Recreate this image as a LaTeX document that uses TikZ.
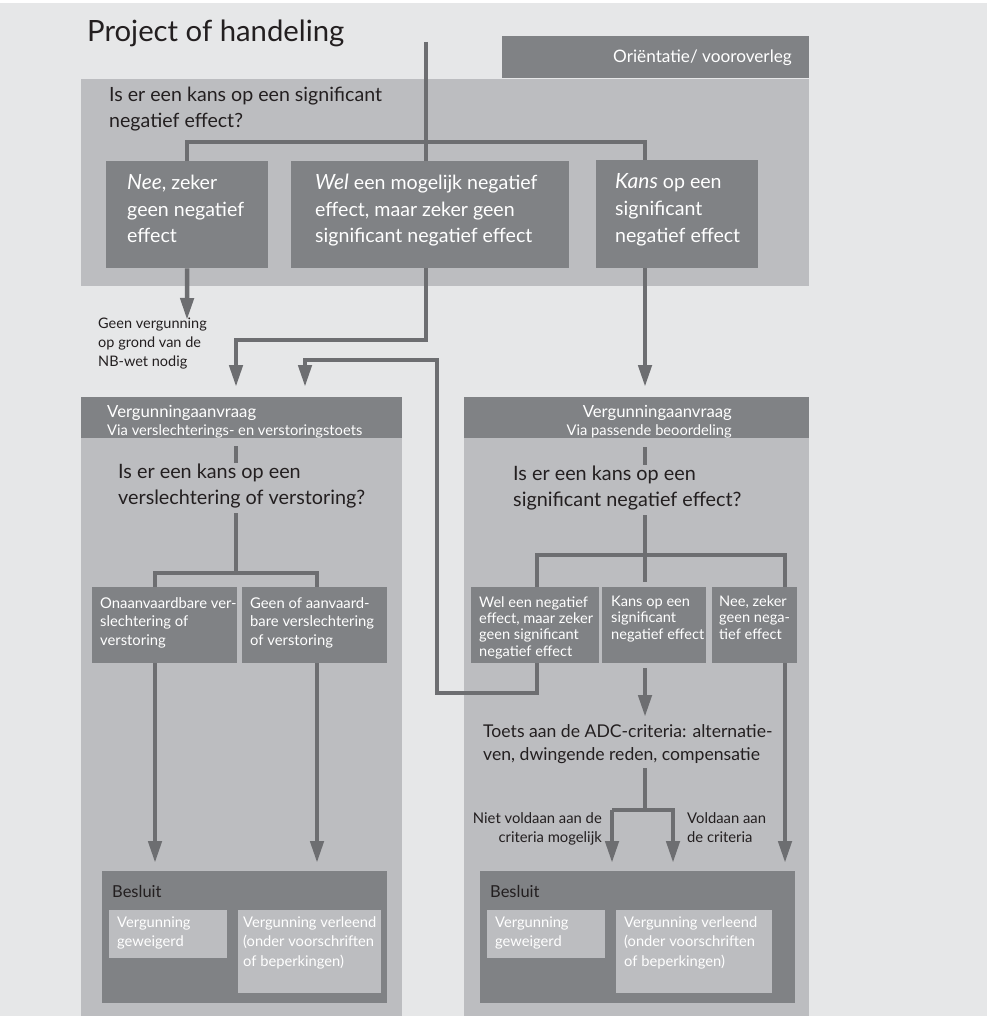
\documentclass[tikz,border=0pt]{standalone}
\usepackage{fontspec}
\setmainfont{Lato}
\usetikzlibrary{arrows.meta,calc}

\definecolor{bgGray}{HTML}{E6E7E8}
\definecolor{panelGray}{HTML}{BCBDC0}
\definecolor{boxGray}{HTML}{808285}
\definecolor{lineGray}{HTML}{6D6E71}
\definecolor{inkDark}{HTML}{231F20}

\newcommand{\fsz}[2]{\fontsize{#1}{#2}\selectfont}

\begin{document}
\begin{tikzpicture}[x=1pt,y=-1pt,
  panel/.style={fill=panelGray, inner sep=0, anchor=north west},
  darkbox/.style={fill=boxGray, inner sep=0, anchor=north west},
  boxtext/.style={text=white, anchor=base west, inner sep=0, align=left},
  asktext/.style={text=inkDark, anchor=base west, inner sep=0, align=left},
  flow/.style={draw=lineGray, line width=4.5pt},
  flowarr/.style={flow, -{Triangle[width=13pt,length=22pt]}},
]
  % Background
  \path[use as bounding box] (0,0) rectangle (990,1016);
  \fill[bgGray] (0,3) rectangle (987,1016);

  % Orientation stage (text nodes sit on the baseline of their last line)
  \node[asktext, font=\fsz{29.3}{34}] (title) at (87,42) {Project of handeling};
  \node[darkbox, minimum width=307pt, minimum height=42pt] (orient) at (502,36) {};
  \node[boxtext, anchor=base east, font=\fsz{17.2}{20}] (orienttxt) at (792,63) {Oriëntatie/ vooroverleg};
  \node[panel, minimum width=728pt, minimum height=207pt] (toppanel) at (81,79) {};
  \node[asktext, font=\fsz{19.6}{26}] (topask) at (109,128) {Is er een kans op een significant\\negatief effect?};

  \node[darkbox, minimum width=162pt, minimum height=107pt] (nee) at (106,161) {};
  \node[darkbox, minimum width=278pt, minimum height=107pt] (wel) at (291,161) {};
  \node[darkbox, minimum width=162pt, minimum height=108pt] (kans) at (596,160) {};
  \node[boxtext, font=\fsz{19.6}{26.5}] (neetxt) at (127,243)
    {{\fsz{21}{26.5}\itshape Nee}, zeker\\geen negatief\\effect};
  \node[boxtext, font=\fsz{19.6}{26.5}] (weltxt) at (315,243)
    {{\fsz{21}{26.5}\itshape Wel} een mogelijk negatief\\effect, maar zeker geen\\significant negatief effect};
  \node[boxtext, font=\fsz{19.6}{26.5}] (kanstxt) at (615,242)
    {{\fsz{21}{26.5}\itshape Kans} op een\\significant\\negatief effect};

  \node[asktext, font=\fsz{14.5}{19}] (geenverg) at (98,366) {Geen vergunning\\op grond van de\\NB-wet nodig};

  % Left column: verslechterings- en verstoringstoets
  \node[darkbox, minimum width=321pt, minimum height=41pt] (lefthead) at (81,397) {};
  \node[panel, minimum width=321pt, minimum height=578pt] (leftpanel) at (81,438) {};
  \node[boxtext, font=\fsz{16.7}{18}] (leftheadtxt) at (107,435)
    {Vergunningaanvraag\\\fsz{14.7}{18}Via verslechterings- en verstoringstoets};
  \node[asktext, font=\fsz{19.8}{26}] (leftask) at (118,504) {Is er een kans op een\\verslechtering of verstoring?};

  \node[darkbox, minimum width=145pt, minimum height=76pt] (onaan) at (92,587) {};
  \node[darkbox, minimum width=145pt, minimum height=76pt] (geenof) at (242,587) {};
  \node[boxtext, font=\fsz{14.8}{18.5}] (onaantxt) at (100,645) {Onaanvaardbare ver-\\slechtering of\\verstoring};
  \node[boxtext, font=\fsz{14.8}{18.5}] (geenoftxt) at (250,645) {Geen of aanvaard-\\bare verslechtering\\of verstoring};

  \node[darkbox, minimum width=285pt, minimum height=132pt] (leftbesluit) at (102,871) {};
  \node[asktext, font=\fsz{16.5}{20}] (leftbesluittxt) at (112,897) {Besluit};
  \node[panel, minimum width=118pt, minimum height=48pt] (leftnee) at (109,910) {};
  \node[panel, minimum width=143pt, minimum height=83pt] (leftja) at (238,910) {};
  \node[boxtext, font=\fsz{14.7}{19.5}] (leftneetxt) at (117,946.5) {Vergunning\\geweigerd};
  \node[boxtext, font=\fsz{14.7}{19.5}] (leftjatxt) at (243,966) {Vergunning verleend\\(onder voorschriften\\of beperkingen)};

  % Right column: passende beoordeling
  \node[darkbox, minimum width=345pt, minimum height=41pt] (righthead) at (464,397) {};
  \node[panel, minimum width=345pt, minimum height=578pt] (rightpanel) at (464,438) {};
  \node[boxtext, anchor=base east, align=right, font=\fsz{16.7}{18}] (rightheadtxt) at (732,435)
    {Vergunningaanvraag\\\fsz{14.7}{18}Via passende beoordeling};
  \node[asktext, font=\fsz{19.8}{26}] (rightask) at (513,506) {Is er een kans op een\\significant negatief effect?};

  \node[darkbox, minimum width=128pt, minimum height=76pt] (welneg) at (471,587) {};
  \node[darkbox, minimum width=104pt, minimum height=76pt] (kansop) at (602,587) {};
  \node[darkbox, minimum width=85pt, minimum height=76pt] (neezeker) at (712,587) {};
  \node[boxtext, font=\fsz{14.6}{16.2}] (welnegtxt) at (479,656) {Wel een negatief\\effect, maar zeker\\geen significant\\negatief effect};
  \node[boxtext, font=\fsz{14.6}{16.2}] (kansoptxt) at (611,639) {Kans op een\\significant\\negatief effect};
  \node[boxtext, font=\fsz{14.6}{16.2}] (neezekertxt) at (719,639) {Nee, zeker\\geen nega-\\tief effect};

  \node[asktext, font=\fsz{17.6}{23}] (adc) at (483,760) {Toets aan de ADC-criteria: alternatie-\\ven, dwingende reden, compensatie};
  \node[asktext, anchor=base east, align=right, font=\fsz{14.8}{19}] (nietvold) at (602,842) {Niet voldaan aan de\\criteria mogelijk};
  \node[asktext, font=\fsz{14.8}{19}] (vold) at (687,842) {Voldaan aan\\de criteria};

  \node[darkbox, minimum width=315pt, minimum height=132pt] (rightbesluit) at (480,871) {};
  \node[asktext, font=\fsz{16.5}{20}] (rightbesluittxt) at (490,897) {Besluit};
  \node[panel, minimum width=118pt, minimum height=48pt] (rightnee) at (487,910) {};
  \node[panel, minimum width=156pt, minimum height=83pt] (rightja) at (616,910) {};
  \node[boxtext, font=\fsz{14.7}{19.5}] (rightneetxt) at (495,946.5) {Vergunning\\geweigerd};
  \node[boxtext, font=\fsz{14.7}{19.5}] (rightjatxt) at (624,966) {Vergunning verleend\\(onder voorschriften\\of beperkingen)};

  % Junction points
  \coordinate (start) at (426,42);
  \coordinate (topfork) at (426,142);
  \coordinate (kansin) at (645,160);
  \coordinate (neeend) at (187,320);
  \coordinate (welbend) at (426,340);
  \coordinate (leftin) at (236,387);
  \coordinate (loopin) at (305,387);
  \coordinate (loopturn) at (437,360);
  \coordinate (loopcorner) at (437,693);
  \coordinate (rightin) at (645,387);
  \coordinate (lstubtop) at (236,446);
  \coordinate (lstubbot) at (236,463);
  \coordinate (laskbot) at (236,513);
  \coordinate (lfork) at (236,573);
  \coordinate (onaanin) at (155,587);
  \coordinate (geenofin) at (317,587);
  \coordinate (rstubtop) at (645,447);
  \coordinate (rstubbot) at (645,465);
  \coordinate (raskbot) at (645,515);
  \coordinate (rfork) at (645,555);
  \coordinate (kansopin) at (645,582);
  \coordinate (welnegin) at (537,587);
  \coordinate (neezekerin) at (785,587);
  \coordinate (kansopout) at (645,668);
  \coordinate (adcin) at (645,717);
  \coordinate (adcout) at (645,768);
  \coordinate (adcfork) at (645,810);
  \coordinate (nietin) at (612,863);
  \coordinate (voldin) at (673,863);
  \coordinate (lbesluitnee) at (155,863);
  \coordinate (lbesluitja) at (317,863);
  \coordinate (rbesluitja) at (785,863);

  % Connectors, top
  \draw[flow] (start) -- (start |- wel.north);
  \draw[flow] (nee.north) |- (kansin |- topfork) -- (kansin);
  \draw[flowarr] (nee.south) -- (neeend);
  \draw[flowarr] (start |- wel.south) -- (welbend) -| (leftin);
  \draw[flowarr] (kansin |- kans.south) -- (rightin);
  \draw[flowarr] (welneg.south -| welnegin) |- (loopcorner) -- (loopturn) -| (loopin);

  % Connectors, left column
  \draw[flow] (lstubtop) -- (lstubbot);
  \draw[flow] (laskbot) -- (lfork);
  \draw[flow] (onaanin) |- (geenofin |- lfork) -- (geenofin);
  \draw[flowarr] (onaanin |- onaan.south) -- (lbesluitnee);
  \draw[flowarr] (geenofin |- geenof.south) -- (lbesluitja);

  % Connectors, right column
  \draw[flow] (rstubtop) -- (rstubbot);
  \draw[flow] (raskbot) -- (kansopin);
  \draw[flow] (welnegin) |- (neezekerin |- rfork) -- (neezekerin);
  \draw[flowarr] (kansopout) -- (adcin);
  \draw[flow] (adcout) -- (adcfork);
  \draw[flowarr] (nietin |- adcfork) -- (nietin);
  \draw[flowarr] (nietin |- adcfork) -- (voldin |- adcfork) -- (voldin);
  \draw[flowarr] (neezekerin |- neezeker.south) -- (rbesluitja);
\end{tikzpicture}
\end{document}
